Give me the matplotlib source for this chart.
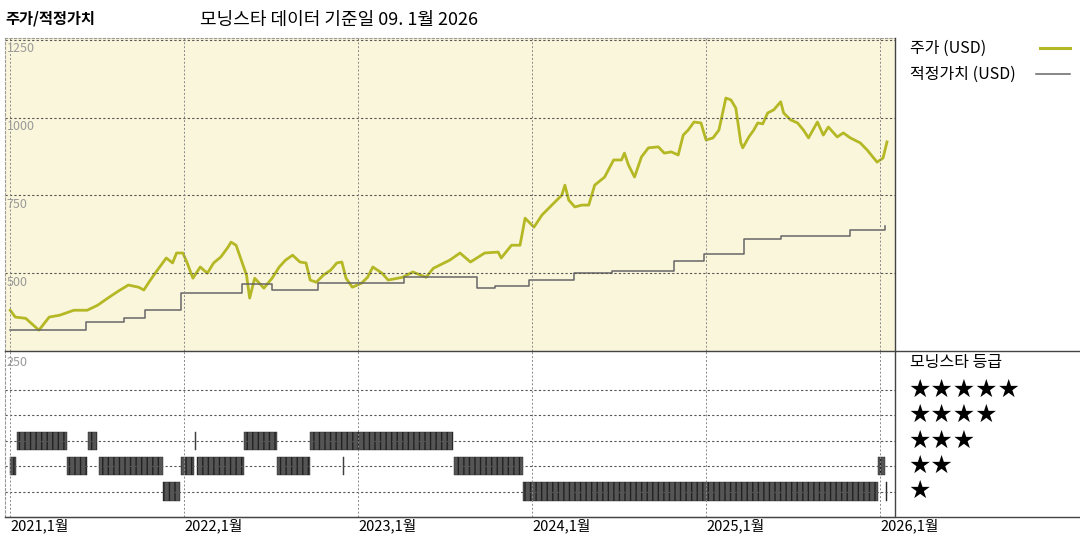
import matplotlib
matplotlib.use('Agg')
import matplotlib.pyplot as plt

plt.rcParams['font.family'] = ['Noto Sans CJK KR', 'DejaVu Sans']

# price (USD), decimal-year dates
price_dates = [2021.001, 2021.030, 2021.090, 2021.166, 2021.225, 2021.285, 2021.367, 2021.443, 2021.503,
               2021.562, 2021.621, 2021.680, 2021.739, 2021.769, 2021.798, 2021.839, 2021.898, 2021.934,
               2021.957, 2021.993, 2022.016, 2022.051, 2022.093, 2022.134, 2022.170, 2022.211, 2022.253,
               2022.270, 2022.299, 2022.329, 2022.359, 2022.377, 2022.406, 2022.459, 2022.506, 2022.547,
               2022.583, 2022.624, 2022.666, 2022.701, 2022.725, 2022.760, 2022.801, 2022.843, 2022.878,
               2022.907, 2022.931, 2022.967, 2023.020, 2023.055, 2023.085, 2023.138, 2023.173, 2023.256,
               2023.315, 2023.391, 2023.433, 2023.527, 2023.586, 2023.646, 2023.728, 2023.805, 2023.823,
               2023.882, 2023.931, 2023.960, 2024.011, 2024.057, 2024.114, 2024.171, 2024.189, 2024.211,
               2024.246, 2024.286, 2024.326, 2024.360, 2024.417, 2024.469, 2024.514, 2024.531, 2024.554,
               2024.589, 2024.629, 2024.669, 2024.726, 2024.760, 2024.800, 2024.840, 2024.869, 2024.897,
               2024.931, 2024.971, 2025.000, 2025.040, 2025.074, 2025.114, 2025.143, 2025.171, 2025.200,
               2025.211, 2025.246, 2025.274, 2025.297, 2025.326, 2025.354, 2025.389, 2025.429, 2025.446,
               2025.486, 2025.526, 2025.560, 2025.589, 2025.640, 2025.674, 2025.703, 2025.754, 2025.789,
               2025.829, 2025.886, 2025.926, 2025.983, 2026.017, 2026.040]
price = [381, 359, 355, 317, 359, 365, 381, 381, 397,
         420, 442, 462, 455, 446, 471, 504, 549, 533,
         565, 565, 536, 484, 520, 500, 533, 552, 584,
         600, 590, 542, 494, 420, 484, 452, 484, 520,
         542, 558, 536, 533, 478, 471, 494, 510, 533,
         536, 484, 455, 468, 487, 520, 500, 478, 487,
         504, 487, 516, 542, 565, 536, 565, 568, 549,
         590, 590, 677, 648, 687, 719, 751, 783, 735,
         713, 719, 719, 783, 809, 864, 864, 886, 848,
         809, 874, 903, 906, 886, 890, 880, 944, 960,
         986, 983, 928, 935, 960, 1063, 1057, 1031, 919,
         903, 938, 960, 983, 980, 1015, 1025, 1051, 1015,
         993, 983, 960, 935, 986, 944, 970, 938, 951,
         935, 919, 896, 857, 870, 922]

# fair value steps (value holds from date until next date)
fv_dates = [2021.000, 2021.438, 2021.656, 2021.774, 2021.981, 2022.335, 2022.506, 2022.771,
            2023.262, 2023.686, 2023.789, 2023.983, 2024.240, 2024.457, 2024.817, 2024.989,
            2025.217, 2025.429, 2025.829, 2026.029]
fv_values = [317, 342, 355, 381, 438, 464, 446, 468,
             487, 452, 458, 477, 500, 507, 539, 561,
             610, 619, 639, 652]

# star rating periods (start, end)
rating_periods = {
    3: [(2021.040, 2021.326), (2021.446, 2021.497), (2022.063, 2022.069),
        (2022.343, 2022.537), (2022.726, 2023.543)],
    2: [(2021.000, 2021.034), (2021.326, 2021.440), (2021.509, 2021.880),
        (2021.983, 2022.057), (2022.074, 2022.343), (2022.537, 2022.726),
        (2022.914, 2022.920), (2023.549, 2023.949), (2025.989, 2026.029)],
    1: [(2021.880, 2021.977), (2023.949, 2025.989), (2026.034, 2026.040)],
}
years = [2021, 2022, 2023, 2024, 2025, 2026]

GREEN = '#b5b825'
x0, x1 = 2020.971, 2026.086

fig = plt.figure(figsize=(10.8, 5.4), dpi=100)
ax = fig.add_axes([5 / 1080, 189 / 540, 890 / 1080, 313 / 540])
ax2 = fig.add_axes([5 / 1080, 23 / 540, 890 / 1080, 166 / 540])

ax.set_facecolor('#faf6db')
ax.plot(price_dates, price, color=GREEN, lw=2.0)
ax.step(fv_dates, fv_values, where='post', color='#666666', lw=1.1)
ax.set_xlim(x0, x1)
ax.set_ylim(250, 1256)
for v in [500, 750, 1000, 1250]:
    ax.axhline(v, color='#555555', lw=0.8, ls=(0, (2, 2)))
    ax.text(x0 + 0.01, v - 8, str(v), color='#999999', fontsize=9, va='top')
for y in years:
    ax.axvline(y, color='#888888', lw=0.7, ls=(0, (2, 2)))
ax.set_xticks([])
ax.set_yticks([])
for s in ax.spines.values():
    s.set_color('#999999')
    s.set_linestyle((0, (2, 2)))
ax.spines['right'].set_visible(False)

ax2.set_xlim(x0, x1)
ax2.set_ylim(0, 6.54)
for r in range(1, 6):
    ax2.axhline(r, color='#555555', lw=0.8, ls=(0, (2, 2)))
for y in years:
    ax2.axvline(y, color='#888888', lw=0.7, ls=(0, (2, 2)))
ax2.text(x0 + 0.01, 6.35, '250', color='#999999', fontsize=9, va='top')
for r, periods in rating_periods.items():
    spans = [(a, max(b - a, 0.004)) for a, b in periods]
    ax2.broken_barh(spans, (r - 0.36, 0.72), facecolors='#555555',
                    edgecolors='#222222', hatch='|||', lw=0.3)
ax2.set_yticks([])
ax2.set_xticks(years)
ax2.set_xticklabels([f'{y},1월' for y in years], ha='left', fontsize=10.5)
ax2.tick_params(axis='x', length=0, pad=1)
for s in ['top', 'right']:
    ax2.spines[s].set_visible(False)
ax2.spines['left'].set_color('#999999')
ax2.spines['left'].set_linestyle((0, (2, 2)))
ax2.spines['bottom'].set_color('#444444')

# right side panel lines and legend
fig.add_artist(plt.Line2D([895 / 1080, 895 / 1080], [24 / 540, 502 / 540], color='#444444', lw=1))
fig.add_artist(plt.Line2D([5 / 1080, 1], [189 / 540, 189 / 540], color='#444444', lw=1))
fig.add_artist(plt.Line2D([5 / 1080, 1], [23 / 540, 23 / 540], color='#444444', lw=1))
fig.text(910 / 1080, 1 - 48 / 540, '주가 (USD)', fontsize=11.5, va='center')
fig.add_artist(plt.Line2D([1040 / 1080, 1070 / 1080], [1 - 48 / 540] * 2, color=GREEN, lw=2.2))
fig.text(910 / 1080, 1 - 74 / 540, '적정가치 (USD)', fontsize=11.5, va='center')
fig.add_artist(plt.Line2D([1036 / 1080, 1070 / 1080], [1 - 74 / 540] * 2, color='#666666', lw=1.1))
fig.text(910 / 1080, 1 - 362 / 540, '모닝스타 등급', fontsize=11.5, va='center')
for i, n in enumerate(range(5, 0, -1)):
    fig.text(908 / 1080, 1 - (390 + 25.3 * i) / 540, '★' * n, fontsize=18, va='center',
             family=['DejaVu Sans'])

fig.text(5 / 1080, 1 - 18 / 540, '주가/적정가치', fontsize=11, fontweight='bold', va='center')
fig.text(200 / 1080, 1 - 20 / 540, '모닝스타 데이터 기준일 09. 1월 2026', fontsize=13, va='center')

fig.savefig('out.png', dpi=100)
